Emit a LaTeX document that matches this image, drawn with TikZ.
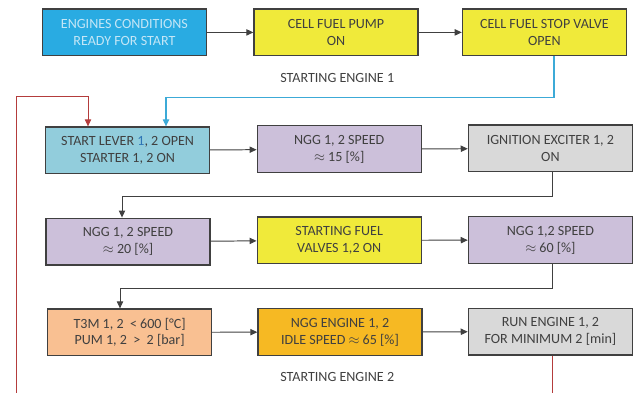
\documentclass[tikz,border=0pt]{standalone}
\usepackage{fontspec}
\setmainfont{Carlito}
\usepackage{xcolor}
\definecolor{engblue}{RGB}{41, 171, 226}
\definecolor{engtext}{RGB}{196, 230, 246}
\definecolor{cellyellow}{RGB}{240, 234, 58}
\definecolor{leverteal}{RGB}{146, 205, 220}
\definecolor{nggpurple}{RGB}{204, 192, 218}
\definecolor{igngray}{RGB}{217, 217, 217}
\definecolor{t3morange}{RGB}{249, 192, 146}
\definecolor{idlegold}{RGB}{246, 185, 35}
\definecolor{boxtext}{RGB}{64, 64, 64}
\definecolor{linkblue}{RGB}{60, 170, 215}
\definecolor{linkred}{RGB}{180, 60, 60}
\definecolor{onenum}{RGB}{46, 117, 182}
\usepackage{tikz}
\usetikzlibrary{arrows.meta, positioning, calc}

\begin{document}
\begin{tikzpicture}[
    stagebox/.style={draw=boxtext, line width=0.9pt, minimum width=4.1cm, minimum height=1.17cm,
      align=center, font=\fontsize{10}{12}\selectfont, text=boxtext, inner sep=2pt},
    link/.style={draw=boxtext, line width=0.7pt, -{Triangle[length=5pt,width=4.5pt]}},
    bluelink/.style={draw=linkblue, line width=0.8pt, -{Triangle[length=5pt,width=4.5pt]}},
    redlink/.style={draw=linkred, line width=0.7pt, -{Triangle[length=5pt,width=4.5pt]}},
    phase/.style={font=\fontsize{10}{12}\selectfont, text=boxtext}
  ]
  \useasboundingbox (0,0) rectangle (16,-9.8);
  % Row 1: cell preparation
  \node[stagebox, fill=engblue, text=engtext] (eng) at (3.11,-0.81) {ENGINES CONDITIONS\\READY FOR START};
  \node[stagebox, fill=cellyellow] (pump) at (8.40,-0.81) {CELL FUEL PUMP\\ON};
  \node[stagebox, fill=cellyellow] (valve) at (13.61,-0.81) {CELL FUEL STOP VALVE\\OPEN};
  \node[phase] (eng1) at (8.43,-1.95) {STARTING ENGINE 1};
  % Row 2
  \node[stagebox, fill=leverteal] (lever) at (3.19,-3.76) {START LEVER \textcolor{onenum}{1}, 2 OPEN\\STARTER 1, 2 ON};
  \node[stagebox, fill=nggpurple] (ngg15) at (8.48,-3.73) {NGG 1, 2 SPEED\\$\approx$ 15 [\%]};
  \node[stagebox, fill=igngray] (ign) at (13.76,-3.71) {IGNITION EXCITER 1, 2\\ON};
  % Row 3
  \node[stagebox, fill=nggpurple] (ngg20) at (3.20,-6.04) {NGG 1, 2 SPEED\\$\approx$ 20 [\%]};
  \node[stagebox, fill=cellyellow] (fuel) at (8.48,-6.01) {STARTING FUEL\\VALVES 1,2 ON};
  \node[stagebox, fill=nggpurple] (ngg60) at (13.76,-6.00) {NGG 1,2 SPEED\\$\approx$ 60 [\%]};
  % Row 4
  \node[stagebox, fill=t3morange] (t3m) at (3.24,-8.31) {T3M 1, 2\ \ < 600 [\textdegree C]\\PUM 1, 2\ \ >\ \ 2 [bar]};
  \node[stagebox, fill=idlegold] (idle) at (8.50,-8.30) {NGG ENGINE 1, 2\\IDLE SPEED $\approx$ 65 [\%]};
  \node[stagebox, fill=igngray] (run) at (13.76,-8.29) {RUN ENGINE 1, 2\\FOR MINIMUM 2 [min]};
  \node[phase] (eng2) at (8.43,-9.43) {STARTING ENGINE 2};
  % Straight links
  \draw[link] (eng) -- (pump);
  \draw[link] (pump) -- (valve);
  \draw[link] (lever) -- (ngg15);
  \draw[link] (ngg15) -- (ign);
  \draw[link] (ngg20) -- (fuel);
  \draw[link] (fuel) -- (ngg60);
  \draw[link] (t3m) -- (idle);
  \draw[link] (idle) -- (run);
  % Row returns
  \draw[bluelink] ([xshift=0.24cm]valve.south) -- ++(0,-1.02) -| ([xshift=0.96cm]lever.north);
  \draw[link] ([xshift=0.06cm]ign.south) -- ++(0,-0.6) -| ([xshift=-0.15cm]ngg20.north);
  \draw[link] ([xshift=0.04cm]ngg60.south) -- ++(0,-0.6) -| ([xshift=-0.24cm]t3m.north);
  % Loop back for engine 2
  \draw[redlink] ([xshift=0.04cm]run.south) -- ++(0,-1.5) -| (0.4,-2.42) -| ([xshift=-0.99cm]lever.north);
\end{tikzpicture}
\end{document}
